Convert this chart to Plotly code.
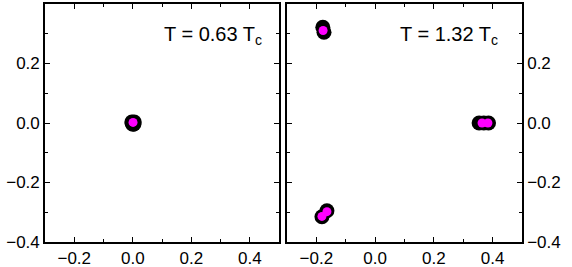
import plotly.graph_objects as go

# ---- data ----
low_black_x = [-0.003, 0.005, 0.001, 0.004, -0.002]
low_black_y = [0.003, 0.003, -0.004, -0.003, -0.002]
low_mag_x = [0.001]
low_mag_y = [0.002]

high_black_x = [-0.178, -0.174, -0.181, -0.164, 0.354, 0.370, 0.386]
high_black_y = [0.322, 0.305, -0.315, -0.295, 0.000, 0.000, 0.000]
high_mag_x = [-0.177, -0.181, -0.164, 0.364, 0.384]
high_mag_y = [0.311, -0.314, -0.298, 0.000, 0.000]

x_ticks = [-0.2, 0.0, 0.2, 0.4]
y_ticks = [-0.4, -0.2, 0.0, 0.2]
labels = ["T = 0.63 T<sub>c</sub>", "T = 1.32 T<sub>c</sub>"]

FONT = "Liberation Sans, Arial, sans-serif"

fig = go.Figure()
fig.add_trace(go.Scatter(x=low_black_x, y=low_black_y, mode="markers",
                         marker=dict(color="black", size=15), xaxis="x", yaxis="y"))
fig.add_trace(go.Scatter(x=low_mag_x, y=low_mag_y, mode="markers",
                         marker=dict(color="#ff00ff", size=9), xaxis="x", yaxis="y"))
fig.add_trace(go.Scatter(x=high_black_x, y=high_black_y, mode="markers",
                         marker=dict(color="black", size=15), xaxis="x2", yaxis="y2"))
fig.add_trace(go.Scatter(x=high_mag_x, y=high_mag_y, mode="markers",
                         marker=dict(color="#ff00ff", size=9), xaxis="x2", yaxis="y2"))

def xax(domain, anchor):
    return dict(domain=domain, anchor=anchor, range=[-0.3, 0.5], tickvals=x_ticks,
                tickformat=".1f", ticks="inside", ticklen=5, tickwidth=1.2,
                tickcolor="black", showline=True, linecolor="black", linewidth=1.6,
                mirror="allticks", showgrid=False, zeroline=False, ticklabelstandoff=0,
                automargin=False,
                tickfont=dict(size=17, color="black", family=FONT),
                minor=dict(dtick=0.1, tick0=-0.3, ticks="inside", ticklen=3,
                           tickwidth=1.2, tickcolor="black", showgrid=False))

def yax(anchor, side):
    return dict(domain=[0, 1], anchor=anchor, side=side, range=[-0.4, 0.4], tickvals=y_ticks,
                tickformat=".1f", ticks="inside", ticklen=5, tickwidth=1.2,
                tickcolor="black", showline=True, linecolor="black", linewidth=1.6,
                mirror="allticks", showgrid=False, zeroline=False, automargin=False,
                tickfont=dict(size=17, color="black", family=FONT),
                minor=dict(dtick=0.1, tick0=-0.4, ticks="inside", ticklen=3,
                           tickwidth=1.2, tickcolor="black", showgrid=False))

fig.update_layout(
    width=572, height=267,
    margin=dict(l=45, r=50, t=4, b=25),
    paper_bgcolor="white", plot_bgcolor="white",
    showlegend=False,
    xaxis=xax([0, 0.4906], "y"),
    yaxis=yax("x", "left"),
    xaxis2=xax([0.5073, 1], "y2"),
    yaxis2=yax("x2", "right"),
    annotations=[
        dict(text=labels[0], xref="x domain", yref="y domain", x=0.935, y=0.93,
             xanchor="right", yanchor="top", showarrow=False,
             font=dict(size=20, color="black", family=FONT)),
        dict(text=labels[1], xref="x2 domain", yref="y2 domain", x=0.905, y=0.93,
             xanchor="right", yanchor="top", showarrow=False,
             font=dict(size=20, color="black", family=FONT)),
    ],
)

fig.write_html("out.html", config={"displayModeBar": False},
               post_script="document.body.style.margin='0';document.body.style.overflow='hidden';")
